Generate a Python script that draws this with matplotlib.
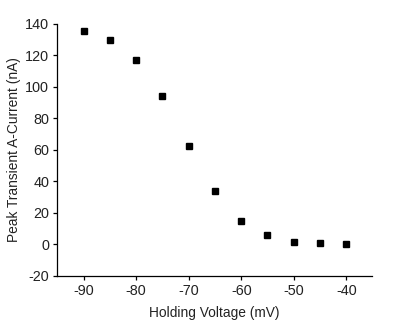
import matplotlib.pyplot as plt

voltage = [-90, -85, -80, -75, -70, -65, -60, -55, -50, -45, -40]
current = [135.5, 130, 117, 94.5, 62.5, 34, 15, 6, 1.8, 0.8, 0]
x_ticks = [-90, -80, -70, -60, -50, -40]
y_ticks = [-20, 0, 20, 40, 60, 80, 100, 120, 140]

plt.rcParams['font.family'] = ['Liberation Sans', 'DejaVu Sans']
plt.rcParams['axes.unicode_minus'] = False

fig = plt.figure(figsize=(4.03, 3.22), dpi=100)
ax = fig.add_axes([0.1407, 0.143, 0.7813, 0.7825])

ax.plot(voltage, current, linestyle='none', marker='s', markersize=4.6,
        color='black')

ax.set_xlim(-95.1, -35.2)
ax.set_ylim(-20, 140)
ax.set_xticks(x_ticks)
ax.set_yticks(y_ticks)
ax.spines['top'].set_visible(False)
ax.spines['right'].set_visible(False)
for side in ['left', 'bottom']:
    ax.spines[side].set_linewidth(0.9)
ax.tick_params(direction='out', length=3, width=0.9, labelsize=10.4,
               colors='black', labelcolor='#222222', pad=2.5)

ax.set_xlabel('Holding Voltage (mV)', fontsize=9.9, color='#222222', labelpad=6)
ax.set_ylabel('Peak Transient A-Current (nA)', fontsize=9.9, color='#222222',
              labelpad=3)

fig.savefig('out.png', dpi=100)
